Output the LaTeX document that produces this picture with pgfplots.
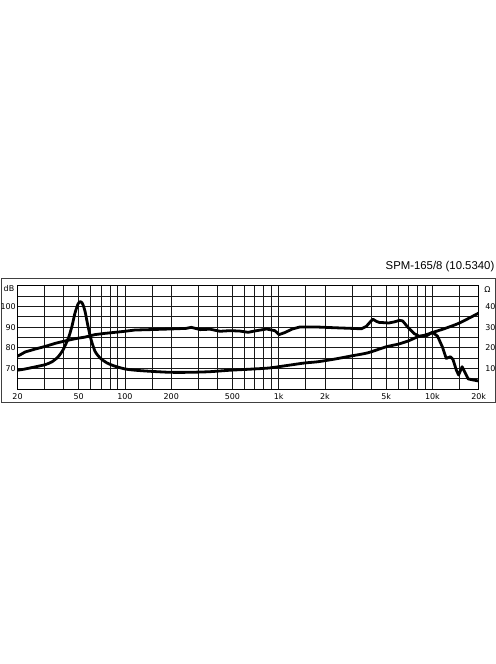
\documentclass[border=0pt]{standalone}
\usepackage{fontspec}
\setmainfont{DejaVu Sans}
\newfontfamily\titlefont{Liberation Sans}
\usepackage{pgfplots}
\pgfplotsset{compat=1.18}
\begin{document}
\begin{tikzpicture}[x=1bp,y=1bp]
\path (0,0) rectangle (496,664);
\draw[black!75, line width=0.8bp] (1,261.7) rectangle (495,386);
\node[anchor=base east, font=\titlefont\fontsize{11.4}{12}\selectfont, inner sep=0] at (494.5,394) {SPM-165/8 (10.5340)};
\node[anchor=center, font=\fontsize{8}{9}\selectfont, inner sep=0] at (9,375) {dB};
\node[anchor=center, font=\fontsize{8}{9}\selectfont, inner sep=0] at (487.5,374) {Ω};
\begin{axis}[at={(17.5bp,274.7bp)}, anchor=south west, scale only axis,
 width=461.2bp, height=103.6bp,
 xmode=log, xmin=20, xmax=20000, ymin=60, ymax=110,
 xtick={20,50,100,200,500,1000,2000,5000,10000,20000},
 xticklabels={20,50,100,200,500,1k,2k,5k,10k,20k},
 minor xtick={30,40,60,70,80,90,150,300,400,600,700,800,900,1500,3000,4000,6000,7000,8000,9000,15000},
 ytick={70,80,90,100}, yticklabels={70,80,90,100},
 minor ytick={65,75,85,95,105},
 grid=both,
 major grid style={black!90, line width=0.9bp},
 minor grid style={black!90, line width=0.9bp},
 major tick length=0, minor tick length=0,
 axis line style={black, line width=1.1bp},
 /pgf/number format/assume math mode=true,
 tick label style={font=\fontsize{8}{9}\selectfont},
 xticklabel style={anchor=center, inner sep=0, yshift=-7bp},
 yticklabel style={anchor=east, inner sep=0, xshift=-1.5bp},
]
\addplot[black, line width=2.8bp, line join=round] coordinates {
(20,76.0) (21,76.8) (22.4,78) (26,79.4) (30.3,80.7) (35.3,82.2) (40.6,83.3)
(47.3,84.4) (55,85.2) (63.9,86.4) (74.3,87) (86.4,87.5) (100,88) (116,88.6)
(145,88.8) (196,89.1) (250,89.4) (270,89.9) (309,88.8) (358,89) (415,88)
(482,88.3) (559,88.1) (633,87.5) (718,88.3) (835,89.1) (944,88.3) (1006,86.4)
(1098,87.4) (1226,89.1) (1378,90.1) (1724,90.1) (2320,89.7) (2972,89.4)
(3453,89.2) (3717,90.4) (3970,92.8) (4105,93.8) (4317,92.8) (4500,92.3)
(5200,92.0) (5700,92.6) (6100,93.3) (6400,93.0) (6900,90.1) (7600,86.9)
(8200,85.6) (9200,85.9) (10000,87.5) (10800,85.6) (11600,80.5) (12300,74.9)
(13100,75.7) (13600,74.4) (14300,69.3) (14800,66.9) (15600,70.9) (16200,68.5)
(17100,65) (18400,64.5) (20000,64)
};
\end{axis}
\begin{axis}[at={(17.5bp,274.7bp)}, anchor=south west, scale only axis,
 width=461.2bp, height=103.6bp,
 xmode=log, xmin=20, xmax=20000, ymin=0, ymax=50,
 hide x axis, axis y line*=right,
 ytick={10,20,30,40}, yticklabels={10,20,30,40},
 major tick length=0,
 axis line style={black, line width=1.1bp},
 /pgf/number format/assume math mode=true,
 tick label style={font=\fontsize{8}{9}\selectfont},
 yticklabel style={anchor=center, inner sep=0, xshift=11.7bp},
]
\addplot[black, line width=2.8bp, line join=round, smooth, tension=0.4] coordinates {
(20,9.2) (22.4,9.8) (26,10.8) (30.3,11.9) (33.4,13.2) (36.7,15.6) (39.6,19.1)
(42.9,24.8) (45.2,30.4) (47.3,36.8) (49.6,41.3) (51.3,42.3) (53,41.3) (55,37.6)
(57.2,31.2) (60.2,24) (63.9,18.3) (69,15.1) (76.5,12.7) (86.4,11.1) (100.4,9.8)
(116.6,9.2) (145,8.7) (196,8.2) (265,8.2) (358,8.5) (482,9.2) (650,9.7)
(870,10.3) (1186,11.7) (1475,12.7) (1799,13.3) (2320,14.6) (2972,16.1)
(3800,17.6) (5000,20.5) (6000,21.8) (7000,23.4) (8000,25.3) (9000,26.2)
(10000,27.4) (12000,29.3) (15000,32) (20000,36.8)
};
\end{axis}
\end{tikzpicture}
\end{document}
